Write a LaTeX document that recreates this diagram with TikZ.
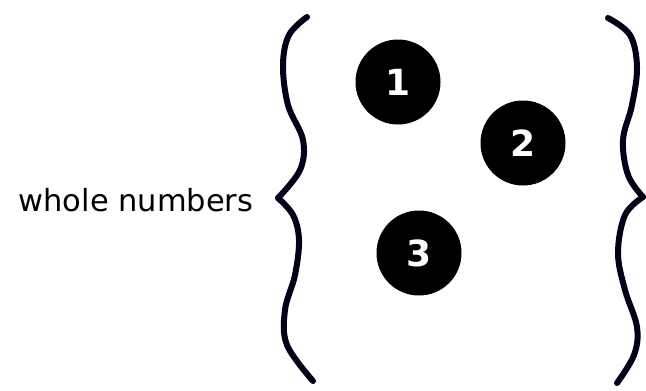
\documentclass[tikz,border=0pt]{standalone}
\usepackage{fontspec}
\setmainfont{DejaVu Sans}
\begin{document}
\begin{tikzpicture}[x=1pt,y=-1pt,
  bracestyle/.style={draw=black!90!blue, line width=6pt, line cap=round, line join=round},
  dot/.style={circle, fill=black, draw=black, line width=1pt, minimum size=84pt, inner sep=0pt,
    text=white, font=\bfseries\fontsize{36}{36}\selectfont},
  lbl/.style={font=\fontsize{30.5}{30.5}\selectfont, text=black, inner sep=0pt}]
\useasboundingbox (0,0) rectangle (646,391);
\node[lbl] (label) at (136,200) {whole numbers};
\node[dot] (one) at (398,82) {1};
\node[dot] (two) at (523,143) {2};
\node[dot] (three) at (419,253) {3};
\draw[bracestyle] plot[smooth, tension=0.6] coordinates {(307,17) (289,35) (283,65) (288,105) (303,140) (300,170) (278,198)};
\draw[bracestyle] plot[smooth, tension=0.6] coordinates {(278,198) (293,215) (299,240) (295,275) (285,310) (287,345) (313,381)};
\draw[bracestyle] plot[smooth, tension=0.6] coordinates {(608,18) (630,35) (637,67) (632,105) (623,140) (628,175) (643,197)};
\draw[bracestyle] plot[smooth, tension=0.6] coordinates {(643,197) (625,215) (618,253) (625,290) (637,327) (634,355) (617,383)};
\end{tikzpicture}
\end{document}
